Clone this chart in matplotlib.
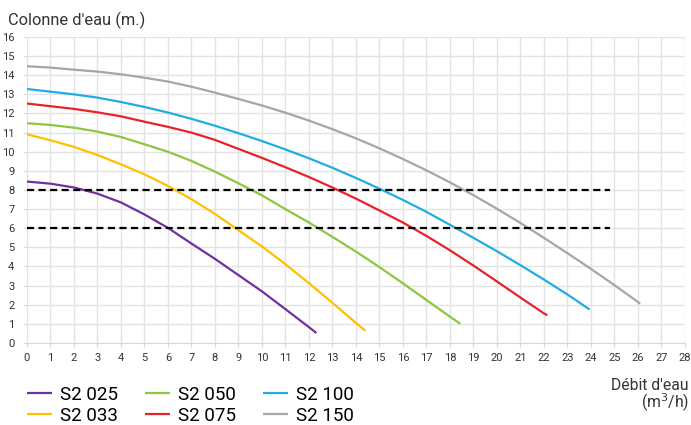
import matplotlib.pyplot as plt

plt.rcParams['font.family'] = ['Roboto', 'DejaVu Sans']

# débit (m3/h) et colonne d'eau (m)
x_025 = [0, 1, 2, 3, 4, 5, 6, 7, 8, 9, 10, 11, 12, 12.32]
y_025 = [8.44, 8.33, 8.13, 7.81, 7.35, 6.72, 6.02, 5.2, 4.4, 3.55, 2.7, 1.77, 0.83, 0.52]

x_033 = [0, 1, 2, 3, 4, 5, 6, 7, 8, 9, 10, 11, 12, 13, 14, 14.41]
y_033 = [10.91, 10.6, 10.25, 9.83, 9.34, 8.82, 8.21, 7.52, 6.75, 5.9, 5.05, 4.12, 3.13, 2.1, 1.05, 0.64]

x_050 = [0, 1, 2, 3, 4, 5, 6, 7, 8, 9, 10, 11, 12, 13, 14, 15, 16, 17, 18, 18.45]
y_050 = [11.49, 11.4, 11.26, 11.05, 10.77, 10.39, 10.0, 9.52, 8.96, 8.35, 7.72, 7.0, 6.3, 5.55, 4.78, 3.97, 3.12, 2.25, 1.38, 1.0]

x_075 = [0, 1, 2, 3, 4, 5, 6, 7, 8, 9, 10, 11, 12, 13, 14, 15, 16, 17, 18, 19, 20, 21, 22, 22.15]
y_075 = [12.52, 12.38, 12.24, 12.06, 11.85, 11.57, 11.3, 11.0, 10.62, 10.15, 9.68, 9.19, 8.68, 8.13, 7.55, 6.93, 6.3, 5.6, 4.85, 4.05, 3.22, 2.38, 1.55, 1.45]

x_100 = [0, 1, 2, 3, 4, 5, 6, 7, 8, 9, 10, 11, 12, 13, 14, 15, 16, 17, 18, 19, 20, 21, 22, 23, 23.95]
y_100 = [13.28, 13.14, 13.0, 12.83, 12.6, 12.34, 12.05, 11.72, 11.36, 10.97, 10.56, 10.12, 9.66, 9.16, 8.63, 8.07, 7.48, 6.86, 6.18, 5.5, 4.8, 4.07, 3.32, 2.54, 1.75]

x_150 = [0, 1, 2, 3, 4, 5, 6, 7, 8, 9, 10, 11, 12, 13, 14, 15, 16, 17, 18, 19, 20, 21, 22, 23, 24, 25, 26, 26.1]
y_150 = [14.47, 14.4, 14.29, 14.19, 14.05, 13.87, 13.67, 13.4, 13.09, 12.76, 12.42, 12.04, 11.63, 11.18, 10.7, 10.18, 9.62, 9.03, 8.4, 7.73, 7.02, 6.28, 5.5, 4.7, 3.88, 3.03, 2.15, 2.05]

series = [
    ("S2 025", x_025, y_025, "#7030A0"),
    ("S2 033", x_033, y_033, "#FFC000"),
    ("S2 050", x_050, y_050, "#8DC63F"),
    ("S2 075", x_075, y_075, "#E8222A"),
    ("S2 100", x_100, y_100, "#1FADE4"),
    ("S2 150", x_150, y_150, "#A6A6A6"),
]

seuils = [8, 6]
seuil_fin = 24.8

fig = plt.figure(figsize=(6.91, 4.25), dpi=100)
ax = fig.add_axes([0.039, 0.193, 0.952, 0.72])

for nom, xs, ys, c in series:
    ax.plot(xs, ys, color=c, lw=1.6, label=nom, solid_capstyle="butt")

for s in seuils:
    ax.plot([0, seuil_fin], [s, s], color="black", lw=1.6, ls=(0, (3.2, 2.0)))

ax.set_xlim(0, 28)
ax.set_ylim(0, 16)
ax.set_xticks(range(0, 29))
ax.set_yticks(range(0, 17))
ax.grid(True, color="#E3E3E3", lw=1)
ax.set_axisbelow(True)
for sp in ["top", "right", "left"]:
    ax.spines[sp].set_visible(False)
ax.spines["bottom"].set_color("#D9D9D9")
ax.tick_params(axis="both", colors="#D9D9D9", labelcolor="#333333", labelsize=8, length=3)
ax.tick_params(axis="x", pad=4)
ax.tick_params(axis="y", pad=6)

fig.text(0.011, 0.953, "Colonne d'eau (m.)", fontsize=11.8, color="#333333", va="center")
fig.text(0.997, 0.092, "Débit d'eau", fontsize=11.3, color="#333333", ha="right", va="center")
fig.text(0.997, 0.053, "(m$^3$/h)", fontsize=11.3, color="#333333", ha="right", va="center")

ax.legend(loc="upper left", bbox_to_anchor=(0, -0.14), ncol=3, frameon=False,
          fontsize=13.5, handlelength=1.33, handletextpad=0.43, columnspacing=1.45,
          labelspacing=0.15, borderpad=0, borderaxespad=0)

fig.savefig("out.png", dpi=100)
